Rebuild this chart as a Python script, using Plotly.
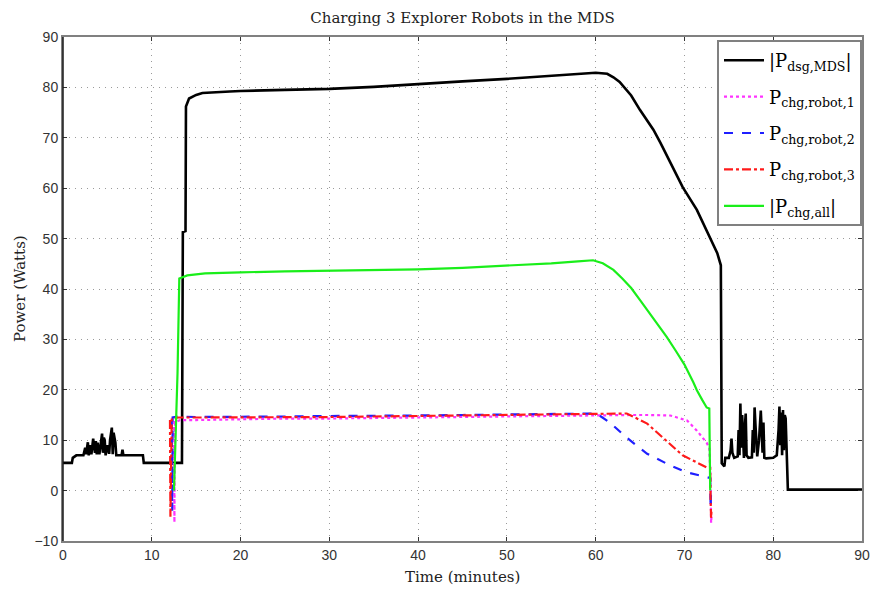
import plotly.graph_objects as go

# ---------------- data ----------------
t_mds = [0, 1.0, 1.1, 1.5, 2.3, 2.5, 2.6, 2.8, 2.9, 3.1, 3.2, 3.4, 3.6, 3.7, 3.8, 3.9, 4.1,
         4.3, 4.4, 4.5, 4.6, 4.7, 4.8, 5.0, 5.2, 5.3, 5.4, 5.5, 5.6, 5.7, 5.9, 6.0,
         6.6, 6.7, 6.8, 9.0, 9.1, 13.4, 13.5, 13.8, 13.85, 14.2, 15.0, 15.7, 18.8,
         20, 25, 30, 35, 40, 45, 50, 55, 58, 60, 61.3, 62.0, 62.7, 64, 65, 66.5,
         67.3, 68.5, 69.8, 71.4, 72.5, 73.7, 74.1, 74.2, 74.5, 74.6, 75.0, 75.2,
         75.3, 75.4, 75.6, 76.0, 76.1, 76.2, 76.3, 76.4, 76.5, 76.7, 76.8, 76.9, 77.0,
         77.2, 77.6, 77.7, 77.8, 77.9, 78.0, 78.2, 78.4, 78.6, 78.8, 78.9, 79.0, 79.2,
         80.0, 80.4, 80.6, 80.7, 80.8, 80.9, 81.0, 81.1, 81.2, 81.3, 81.4, 81.5, 81.6,
         81.65, 90]
p_mds = [5.5, 5.5, 6.5, 7.0, 7.0, 8.5, 7.2, 9.6, 7.0, 9.0, 7.2, 10.3, 7.5, 9.8, 7.2, 9.5, 7.2,
         10.5, 11.3, 7.5, 10.5, 10.0, 7.0, 9.0, 7.3, 10.0, 11.0, 12.5, 7.2, 11.5, 9.5, 7.0,
         7.0, 8.1, 7.0, 7.0, 5.5, 5.5, 51.3, 51.5, 76.2, 77.8, 78.5, 78.9, 79.2,
         79.3, 79.5, 79.7, 80.1, 80.7, 81.2, 81.7, 82.3, 82.7, 82.9, 82.7, 82.0, 81.1, 78.4, 75.5, 71.6,
         69.0, 64.8, 60.2, 55.7, 51.5, 47.1, 44.7, 5.4, 4.8, 6.5, 6.5, 8.0,
         10.3, 7.5, 6.5, 6.8, 12.0, 7.0, 17.3, 8.5, 15.0, 6.5, 12.5, 15.3, 7.0,
         6.5, 6.6, 12.0, 7.5, 16.5, 13.0, 6.8, 10.0, 15.9, 7.5, 13.5, 6.5, 6.4,
         6.5, 7.0, 12.0, 16.7, 9.0, 15.5, 7.0, 16.0, 8.0, 15.0, 14.3, 9.0, 6.5,
         0.2, 0.2]

t_r1 = [12.5, 12.55, 12.6, 13.2, 15, 20, 25, 30, 35, 40, 45, 50, 55, 58, 60, 62, 64, 66,
        67, 68.4, 69, 70.3, 71.4, 72.5, 72.8, 72.95, 73.0, 73.05]
p_r1 = [13.8, -6.3, 13.5, 14.0, 14.0, 14.2, 14.3, 14.3, 14.4, 14.5, 14.6, 14.8, 14.9, 15.0,
        15.0, 15.0, 15.0, 15.0, 14.9, 14.9, 14.6, 13.9, 11.9, 9.5, 8.5, 2.0, -6.4, -5.0]

t_r2 = [12.25, 12.3, 12.35, 13.0, 15, 20, 25, 30, 35, 40, 45, 50, 55, 58, 60.1, 61.6,
        63.5, 65.8, 68.4, 70.3, 72.5, 72.9, 72.95, 73.0]
p_r2 = [14.0, -4.0, 14.5, 14.7, 14.6, 14.6, 14.7, 14.8, 14.8, 14.9, 15.0, 15.1, 15.3, 15.4,
        15.3, 13.5, 10.5, 7.3, 5.0, 3.6, 2.6, 2.5, -3.4, 0.0]

t_r3 = [12.05, 12.1, 12.25, 13.0, 15, 20, 25, 30, 35, 40, 45, 50, 55, 58, 60, 63.5, 65.8,
        68.4, 69.8, 72.5, 72.9, 72.95, 73.0, 73.05]
p_r3 = [14.0, -5.2, 14.3, 14.5, 14.5, 14.5, 14.6, 14.6, 14.7, 14.8, 14.9, 15.0, 15.1, 15.2,
        15.3, 15.3, 13.3, 9.3, 7.0, 4.6, 4.5, -2.0, -5.4, -4.0]

t_all = [12.5, 12.9, 13.1, 14, 16, 18.8, 20, 25, 30, 35, 40, 45, 50, 55, 58, 59.7, 60.8,
         62, 63, 64, 65, 66, 67, 68, 69, 70, 71, 71.4, 72, 72.5, 72.8, 72.9]
p_all = [0.0, 23.3, 42.1, 42.7, 43.1, 43.3, 43.3, 43.5, 43.6, 43.7, 43.9, 44.2, 44.6, 45.1,
         45.5, 45.7, 45.1, 43.8, 42.1, 40.2, 37.8, 35.4, 33.0, 30.5, 27.8, 25.0, 21.5,
         19.9, 18.0, 16.5, 16.3, 0.0]

names = ["|P<sub>dsg,MDS</sub>|", "P<sub>chg,robot,1</sub>", "P<sub>chg,robot,2</sub>",
         "P<sub>chg,robot,3</sub>", "|P<sub>chg,all</sub>|"]
x_ticks = [0, 10, 20, 30, 40, 50, 60, 70, 80, 90]
y_ticks = [-10, 0, 10, 20, 30, 40, 50, 60, 70, 80, 90]

title_text = "Charging 3 Explorer Robots in the MDS"
x_title = "Time (minutes)"
y_title = "Power (Watts)"

# ---------------- figure ----------------
fig = go.Figure()
series = [
    (t_mds, p_mds, names[0], dict(color="black", width=2.6)),
    (t_r1, p_r1, names[1], dict(color="#ff33ff", width=2.2, dash="dot")),
    (t_r2, p_r2, names[2], dict(color="#1f1fff", width=2.2, dash="dash")),
    (t_r3, p_r3, names[3], dict(color="#ff1a1a", width=2.2, dash="dashdot")),
    (t_all, p_all, names[4], dict(color="#1aee1a", width=2.2)),
]
for k, (tx, py, nm, ln) in enumerate(series):
    fig.add_trace(go.Scatter(x=tx, y=py, mode="lines", name=nm, line=ln,
                             legendgroup="g%d" % k, legendrank=k + 1))

axis_common = dict(
    showgrid=True, gridcolor="#9a9a9a", griddash="1px,5px", gridwidth=1,
    showline=True, linecolor="#808080", linewidth=2, mirror="ticks",
    ticks="inside", ticklen=4, tickcolor="#333333", automargin=False,
    zeroline=False, tickfont=dict(family="Liberation Sans", size=14, color="#333333"),
)
fig.update_xaxes(range=[0, 90], tickvals=x_ticks, **axis_common)
fig.update_yaxes(range=[-10, 90], tickvals=y_ticks, **axis_common)

fig.update_layout(
    width=872, height=591,
    margin=dict(l=63, r=10, t=37, b=50, autoexpand=False),
    paper_bgcolor="white", plot_bgcolor="white",
    title=dict(text=title_text, x=0.5, xref="paper", y=1 - 18 / 591, yref="container",
               xanchor="center", yanchor="middle",
               font=dict(family="DejaVu Serif", size=15, color="#222222")),
    showlegend=True,
    legend=dict(x=1.0, y=0.994, xanchor="right", yanchor="top",
                bgcolor="white", bordercolor="#808080", borderwidth=2,
                font=dict(family="DejaVu Serif", size=18, color="black"),
                tracegroupgap=10, itemwidth=40),
    shapes=[dict(type="line", xref="paper", yref="paper", x0=0, x1=0, y0=0, y1=1,
                 line=dict(color="#1a1a1a", width=1.5), layer="above")],
    annotations=[
        dict(text=x_title, x=0.5, xref="paper", y=(541 - 577) / 504, yref="paper",
             showarrow=False, xanchor="center", yanchor="middle",
             font=dict(family="DejaVu Serif", size=15, color="#222222")),
        dict(text=y_title, x=(20 - 63) / 799, xref="paper", y=0.5, yref="paper",
             showarrow=False, xanchor="center", yanchor="middle", textangle=-90,
             font=dict(family="DejaVu Serif", size=15, color="#222222")),
    ],
)

fig.write_html("out.html")
